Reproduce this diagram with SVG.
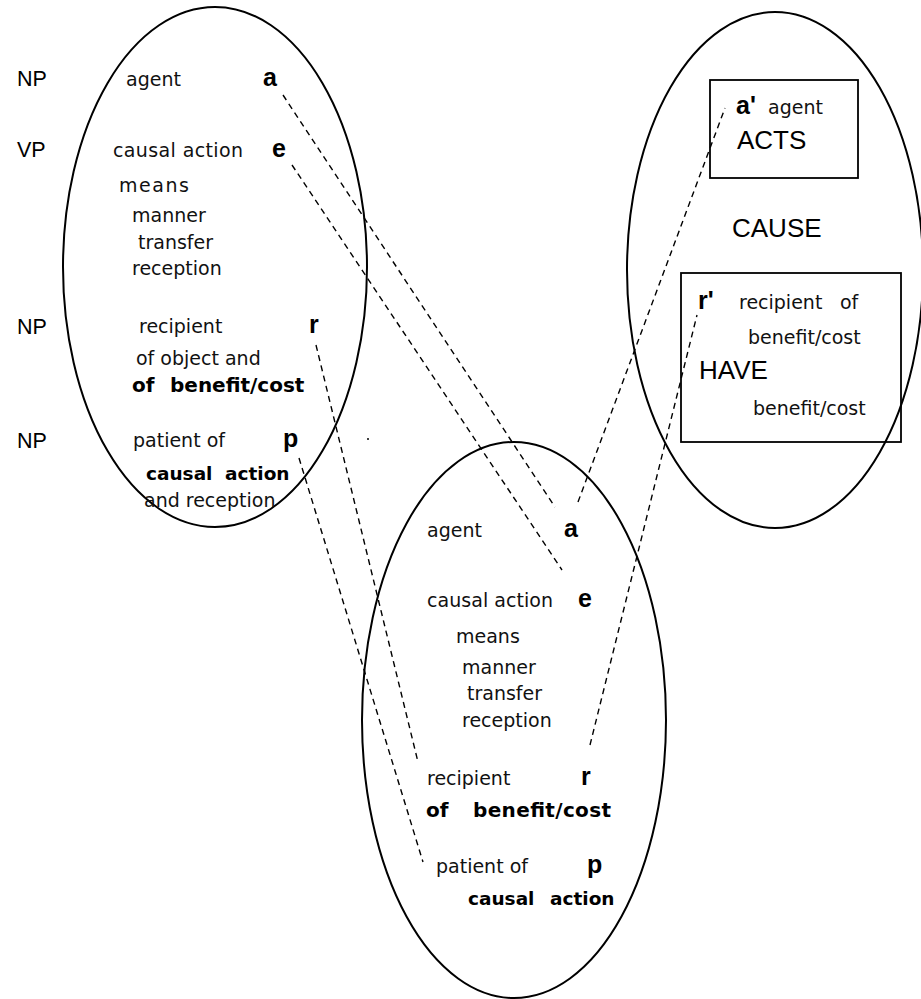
<svg xmlns="http://www.w3.org/2000/svg" width="921" height="999" viewBox="0 0 921 999">
<style>
.sh{fill:none;stroke:#000;stroke-width:2}
.bx{fill:none;stroke:#000;stroke-width:1.8}
.dl{fill:none;stroke:#000;stroke-width:1.4;stroke-dasharray:6 4.5}
.t{font-family:"DejaVu Sans",sans-serif;font-size:19px;fill:#111}
.tb{font-family:"DejaVu Sans",sans-serif;font-size:18.5px;font-weight:bold;fill:#000}
.tb2{font-family:"DejaVu Sans",sans-serif;font-size:20px;font-weight:bold;fill:#000}
.v{font-family:"Liberation Sans",Arial,sans-serif;font-size:25px;font-weight:bold;fill:#000}
.lab{font-family:"Liberation Sans",Arial,sans-serif;font-size:21.5px;fill:#000}
.big{font-family:"Liberation Sans",Arial,sans-serif;font-size:26px;fill:#000}
</style>
<rect width="921" height="999" fill="#fff"/>
<g id="syntax-labels">
<text class="lab" x="17" y="86">NP</text>
<text class="lab" x="17" y="157">VP</text>
<text class="lab" x="17" y="334">NP</text>
<text class="lab" x="17" y="448">NP</text>
</g>
<g id="left-ellipse">
<ellipse class="sh" cx="215" cy="267" rx="152" ry="260"/>
<text class="t" x="126" y="86">agent</text>
<text class="v" x="263" y="86">a</text>
<text class="t" x="113" y="157" textLength="130">causal action</text>
<text class="v" x="272" y="157">e</text>
<text class="t" x="119" y="192" textLength="70">means</text>
<text class="t" x="132" y="222">manner</text>
<text class="t" x="138" y="249">transfer</text>
<text class="t" x="132" y="275">reception</text>
<text class="t" x="139" y="333">recipient</text>
<text class="v" x="309" y="333">r</text>
<text class="t" x="136" y="365">of object and</text>
<text class="tb2" x="132" y="392">of</text>
<text class="tb2" x="170" y="392">benefit/cost</text>
<text class="t" x="133" y="447">patient of</text>
<text class="v" x="283" y="447">p</text>
<text class="tb" x="146" y="480">causal</text>
<text class="tb" x="225" y="480">action</text>
<text class="t" x="144" y="507">and reception</text>
</g>
<g id="right-ellipse">
<ellipse class="sh" cx="775" cy="270" rx="148" ry="258"/>
<text class="big" x="732" y="237">CAUSE</text>
</g>
<g id="acts-box">
<rect class="bx" x="710" y="80" width="148" height="98"/>
<text class="v" x="736" y="114">a'</text>
<text class="t" x="768" y="114">agent</text>
<text class="big" x="737" y="149">ACTS</text>
</g>
<g id="have-box">
<rect class="bx" x="681" y="273" width="220" height="169"/>
<text class="v" x="698" y="309">r'</text>
<text class="t" x="739" y="309">recipient</text>
<text class="t" x="840" y="309">of</text>
<text class="t" x="748" y="344">benefit/cost</text>
<text class="big" x="699" y="379">HAVE</text>
<text class="t" x="753" y="415">benefit/cost</text>
</g>
<g id="bottom-ellipse">
<ellipse class="sh" cx="514" cy="720" rx="152" ry="278"/>
<text class="t" x="427" y="537">agent</text>
<text class="v" x="564" y="537">a</text>
<text class="t" x="427" y="607" textLength="126">causal action</text>
<text class="v" x="578" y="607">e</text>
<text class="t" x="456" y="643">means</text>
<text class="t" x="462" y="674">manner</text>
<text class="t" x="467" y="700">transfer</text>
<text class="t" x="462" y="727">reception</text>
<text class="t" x="427" y="785">recipient</text>
<text class="v" x="581" y="785">r</text>
<text class="tb2" x="426" y="817">of</text>
<text class="tb2" x="473" y="817" textLength="138">benefit/cost</text>
<text class="t" x="436" y="873">patient of</text>
<text class="v" x="587" y="873">p</text>
<text class="tb" x="468" y="905">causal</text>
<text class="tb" x="550" y="905">action</text>
</g>
<g id="connectors">
<line class="dl" x1="283" y1="95" x2="555" y2="507"/>
<line class="dl" x1="292" y1="165" x2="562" y2="570"/>
<line class="dl" x1="316" y1="345" x2="418" y2="762"/>
<line class="dl" x1="299" y1="458" x2="423" y2="862"/>
<line class="dl" x1="578" y1="502" x2="725" y2="108"/>
<line class="dl" x1="590" y1="745" x2="697" y2="315"/>
</g>
<circle cx="368" cy="439" r="1" fill="#000"/>
</svg>
